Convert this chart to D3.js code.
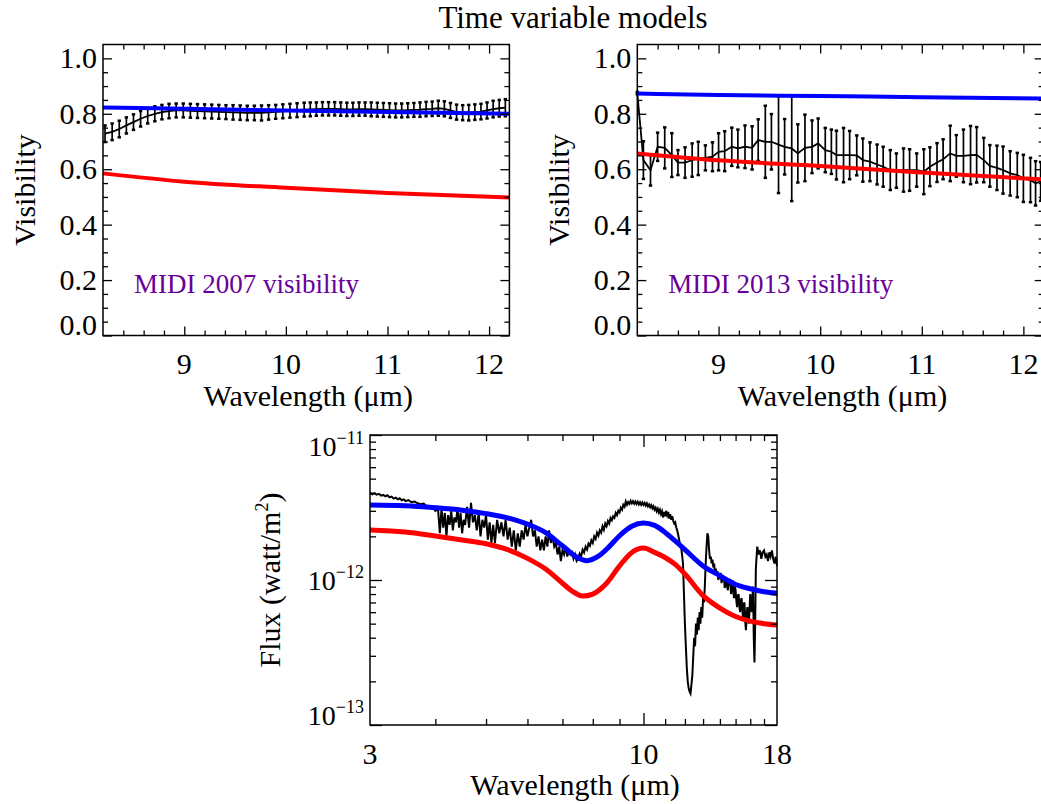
<!DOCTYPE html>
<html lang="en">
<head>
<meta charset="UTF-8">
<title>Time variable models</title>
<script src="https://cdn.jsdelivr.net/npm/d3@7"></script>
<style>
    body {
        background: white;
        margin: 0;
        padding: 0;
    }
    svg {
        display: block;
        font-family: "Liberation Serif", "Times New Roman", serif;
    }
    .frame {
        fill: none;
        stroke: black;
        stroke-width: 1.5;
    }
    .tick line {
        stroke: black;
        stroke-width: 1.3;
    }
    .lbl {
        font-size: 30px;
        fill: black;
    }
    .note {
        font-size: 27px;
        fill: #680099;
    }
</style>
</head>
<body>
<script>
    // MIDI 2007 visibility
    var wave07 = [8.22, 8.29, 8.36, 8.43, 8.50, 8.57, 8.64, 8.71, 8.78, 8.85,
        8.92, 8.99, 9.06, 9.13, 9.20, 9.27, 9.34, 9.41, 9.48, 9.55,
        9.62, 9.69, 9.76, 9.83, 9.90, 9.97, 10.04, 10.11, 10.18, 10.24,
        10.30, 10.36, 10.42, 10.48, 10.54, 10.60, 10.66, 10.72, 10.78, 10.84,
        10.90, 10.96, 11.02, 11.08, 11.14, 11.20, 11.26, 11.32, 11.38, 11.44,
        11.50, 11.56, 11.62, 11.68, 11.74, 11.80, 11.86, 11.92, 11.98, 12.04,
        12.10, 12.16];
    var vis07 = [0.728, 0.735, 0.745, 0.758, 0.770, 0.782, 0.792, 0.800, 0.806, 0.810,
        0.812, 0.812, 0.811, 0.810, 0.809, 0.808, 0.807, 0.806, 0.805, 0.804,
        0.803, 0.803, 0.803, 0.805, 0.807, 0.809, 0.811, 0.813, 0.815, 0.816,
        0.817, 0.818, 0.818, 0.818, 0.817, 0.816, 0.816, 0.817, 0.817, 0.816,
        0.815, 0.814, 0.813, 0.812, 0.812, 0.813, 0.814, 0.815, 0.817, 0.818,
        0.820, 0.818, 0.812, 0.806, 0.804, 0.804, 0.806, 0.808, 0.812, 0.817,
        0.820, 0.822];
    var err07 = [0.030, 0.030, 0.030, 0.029, 0.028, 0.028, 0.027, 0.027, 0.026, 0.026,
        0.025, 0.025, 0.025, 0.025, 0.025, 0.025, 0.025, 0.025, 0.026, 0.026,
        0.026, 0.026, 0.027, 0.026, 0.025, 0.025, 0.025, 0.025, 0.025, 0.025,
        0.024, 0.024, 0.024, 0.024, 0.024, 0.024, 0.024, 0.024, 0.024, 0.025,
        0.025, 0.025, 0.025, 0.025, 0.025, 0.025, 0.025, 0.026, 0.026, 0.026,
        0.027, 0.027, 0.027, 0.027, 0.027, 0.028, 0.028, 0.028, 0.029, 0.030,
        0.030, 0.031];

    // MIDI 2013 visibility
    var wave13 = [8.20, 8.26, 8.33, 8.40, 8.47, 8.54, 8.60, 8.67, 8.74, 8.80,
        8.87, 8.94, 9.00, 9.06, 9.13, 9.19, 9.26, 9.33, 9.39, 9.46,
        9.52, 9.59, 9.65, 9.72, 9.78, 9.85, 9.92, 9.98, 10.05, 10.11,
        10.16, 10.23, 10.29, 10.36, 10.42, 10.49, 10.56, 10.62, 10.69, 10.75,
        10.82, 10.88, 10.95, 11.02, 11.08, 11.15, 11.21, 11.28, 11.34, 11.41,
        11.48, 11.54, 11.61, 11.67, 11.74, 11.80, 11.87, 11.94, 12.00, 12.07,
        12.12, 12.17];
    var vis13 = [0.875, 0.633, 0.596, 0.681, 0.677, 0.651, 0.624, 0.624, 0.633, 0.639,
        0.641, 0.645, 0.663, 0.665, 0.681, 0.675, 0.681, 0.677, 0.705, 0.699,
        0.699, 0.689, 0.681, 0.675, 0.657, 0.677, 0.681, 0.693, 0.669, 0.663,
        0.651, 0.651, 0.651, 0.650, 0.633, 0.627, 0.617, 0.609, 0.597, 0.595,
        0.597, 0.597, 0.597, 0.591, 0.609, 0.624, 0.636, 0.657, 0.648, 0.648,
        0.651, 0.652, 0.633, 0.612, 0.605, 0.597, 0.585, 0.579, 0.567, 0.561,
        0.549, 0.556];
    var err13 = [0.004, 0.068, 0.055, 0.051, 0.074, 0.079, 0.045, 0.055, 0.060, 0.060,
        0.045, 0.052, 0.067, 0.072, 0.069, 0.068, 0.077, 0.078, 0.075, 0.130,
        0.100, 0.175, 0.100, 0.190, 0.105, 0.120, 0.095, 0.090, 0.080, 0.080,
        0.088, 0.098, 0.087, 0.072, 0.078, 0.070, 0.072, 0.072, 0.072, 0.062,
        0.078, 0.075, 0.060, 0.081, 0.070, 0.070, 0.072, 0.100, 0.075, 0.095,
        0.105, 0.100, 0.080, 0.075, 0.080, 0.085, 0.080, 0.080, 0.085, 0.080,
        0.080, 0.070];

    // model visibilities
    var modelWave = [8.2, 9, 10, 11, 12.2];
    var blue07 = [0.823, 0.818, 0.812, 0.806, 0.800];
    var red07 = [0.585, 0.555, 0.533, 0.514, 0.498];
    var blue13 = [0.873, 0.868, 0.864, 0.860, 0.855];
    var red13 = [0.657, 0.632, 0.612, 0.588, 0.563];

    // spectrum [wavelength, flux in 1e-12 W/m2]
    var specData = [[3.00, 4.00], [3.03, 3.90], [3.06, 3.96], [3.09, 3.88], [3.12, 3.93], [3.15, 3.82],
        [3.18, 3.86], [3.21, 3.78], [3.24, 3.84], [3.27, 3.72], [3.30, 3.76], [3.33, 3.64], [3.36, 3.70],
        [3.39, 3.60], [3.42, 3.66], [3.45, 3.55], [3.48, 3.60], [3.51, 3.50], [3.55, 3.56], [3.60, 3.44],
        [3.65, 3.48], [3.70, 3.38], [3.75, 3.33], [3.80, 3.36], [3.85, 3.22], [3.90, 3.16], [3.95, 3.20],
        [4.00, 3.00], [4.03, 3.06], [4.05, 3.0], [4.08, 2.1], [4.11, 3.1], [4.14, 2.3], [4.17, 2.9],
        [4.20, 2.0], [4.23, 2.8], [4.26, 2.4], [4.29, 3.0], [4.32, 2.2], [4.35, 2.7], [4.38, 2.5],
        [4.41, 3.1], [4.44, 2.3], [4.47, 2.9], [4.50, 2.1], [4.53, 2.6], [4.56, 2.4], [4.60, 3.2],
        [4.64, 2.3], [4.68, 3.4], [4.72, 2.5], [4.76, 2.8], [4.80, 2.2], [4.84, 2.9], [4.88, 2.0],
        [4.92, 2.6], [4.96, 2.3], [5.00, 2.8], [5.04, 1.9], [5.08, 2.5], [5.12, 1.8], [5.16, 2.4],
        [5.20, 1.8], [5.25, 2.6], [5.30, 2.1], [5.35, 2.5], [5.40, 2.0], [5.45, 2.6], [5.50, 1.9],
        [5.55, 2.3], [5.60, 1.7], [5.65, 2.2], [5.70, 1.6], [5.75, 2.1], [5.80, 1.7], [5.85, 2.2],
        [5.90, 1.9], [5.95, 2.4], [6.00, 2.0], [6.05, 2.3], [6.10, 2.6], [6.15, 2.0], [6.20, 2.2],
        [6.25, 1.7], [6.30, 2.0], [6.35, 1.6], [6.40, 1.9], [6.45, 1.6], [6.50, 2.0], [6.55, 1.7],
        [6.60, 2.2], [6.65, 1.8], [6.70, 2.0], [6.75, 1.7], [6.80, 1.8], [6.85, 1.5], [6.90, 1.7],
        [6.95, 1.35], [7.00, 1.6], [7.05, 1.5], [7.10, 1.7], [7.15, 1.45], [7.20, 1.6], [7.25, 1.5],
        [7.30, 1.55], [7.35, 1.4], [7.40, 1.5], [7.45, 1.35],
        [7.50, 1.40], [7.55, 1.52], [7.60, 1.45], [7.65, 1.62], [7.70, 1.55], [7.75, 1.70], [7.80, 1.62],
        [7.85, 1.78], [7.90, 1.72], [7.95, 1.88], [8.00, 1.80], [8.05, 2.00], [8.10, 1.92], [8.15, 2.12],
        [8.20, 2.02], [8.25, 2.20], [8.30, 2.12], [8.35, 2.35], [8.40, 2.22], [8.45, 2.45], [8.50, 2.35],
        [8.55, 2.55], [8.60, 2.45], [8.65, 2.68], [8.70, 2.58], [8.75, 2.75], [8.80, 2.68], [8.85, 2.90],
        [8.90, 2.80], [8.95, 3.00], [9.00, 2.92], [9.05, 3.15], [9.10, 3.05], [9.15, 3.30], [9.20, 3.20],
        [9.25, 3.48], [9.30, 3.30], [9.35, 3.45], [9.40, 3.35], [9.45, 3.52], [9.50, 3.38], [9.55, 3.50],
        [9.60, 3.36], [9.65, 3.48], [9.70, 3.34], [9.75, 3.46], [9.80, 3.32], [9.85, 3.44], [9.90, 3.30],
        [9.95, 3.42], [10.0, 3.30], [10.05, 3.40], [10.10, 3.26], [10.15, 3.38], [10.20, 3.22], [10.25, 3.32],
        [10.30, 3.18], [10.35, 3.28], [10.40, 3.12], [10.45, 3.22], [10.50, 3.05], [10.55, 3.15],
        [10.60, 2.98], [10.65, 3.10], [10.70, 2.92], [10.75, 3.05], [10.80, 2.85], [10.85, 2.98],
        [10.90, 2.70], [10.95, 2.95], [11.00, 2.75], [11.05, 3.00], [11.10, 2.80], [11.15, 2.95],
        [11.20, 2.65], [11.25, 2.85], [11.30, 2.60], [11.35, 2.75], [11.40, 2.55], [11.45, 2.45],
        [11.50, 2.50], [11.55, 2.30], [11.60, 2.20], [11.65, 2.05], [11.70, 1.90], [11.75, 1.75],
        [11.80, 1.70], [11.85, 1.5], [11.9, 1.3], [11.95, 0.8],
        [12.0, 0.5], [12.05, 0.35], [12.1, 0.25], [12.15, 0.2], [12.2, 0.18], [12.25, 0.17], [12.3, 0.165],
        [12.35, 0.19], [12.4, 0.22], [12.45, 0.3], [12.5, 0.4], [12.55, 0.35], [12.6, 0.5], [12.65, 0.42],
        [12.7, 0.55], [12.75, 0.45], [12.8, 0.6], [12.85, 0.5], [12.9, 0.65], [12.95, 0.55], [13.0, 0.75],
        [13.05, 0.7], [13.1, 0.9], [13.15, 1.3], [13.2, 1.7], [13.25, 2.1], [13.3, 2.0], [13.35, 1.6],
        [13.4, 1.4], [13.45, 1.45], [13.5, 1.3], [13.55, 1.38], [13.6, 1.22], [13.65, 1.3], [13.7, 1.1],
        [13.75, 1.2], [13.8, 1.08], [13.85, 1.15], [13.9, 1.0], [13.95, 1.1], [14.0, 1.02], [14.05, 1.12],
        [14.1, 0.95], [14.15, 1.05], [14.2, 0.98], [14.25, 1.06], [14.3, 0.88], [14.35, 0.98], [14.4, 1.0],
        [14.45, 0.9], [14.5, 0.85], [14.55, 0.98], [14.6, 0.92], [14.65, 1.02], [14.7, 0.8], [14.75, 0.9],
        [14.8, 1.0], [14.85, 0.82], [14.9, 0.75], [14.95, 0.9], [15.0, 0.85], [15.05, 0.72], [15.1, 0.65],
        [15.15, 0.78], [15.2, 0.8], [15.25, 0.66], [15.3, 0.6], [15.35, 0.72], [15.4, 0.75], [15.45, 0.62],
        [15.5, 0.55], [15.55, 0.68], [15.6, 0.7], [15.65, 0.52], [15.7, 0.45], [15.75, 0.58], [15.8, 0.65],
        [15.85, 0.55], [15.9, 0.5], [15.95, 0.62], [16.0, 0.8], [16.05, 0.7], [16.1, 0.6], [16.15, 0.75],
        [16.2, 0.9], [16.25, 0.4], [16.3, 0.27], [16.35, 0.5], [16.4, 1.2], [16.5, 1.7], [16.6, 1.5],
        [16.7, 1.6], [16.8, 1.4], [16.9, 1.55], [17.0, 1.6], [17.1, 1.45], [17.2, 1.5], [17.3, 1.35],
        [17.4, 1.55], [17.5, 1.45], [17.6, 1.6], [17.7, 1.4], [17.8, 1.3], [17.9, 1.45], [18.0, 1.25]];

    // model SEDs [wavelength, flux in 1e-12 W/m2]
    var blueSed = [[3, 3.29], [3.5, 3.25], [4, 3.15], [4.5, 3.03], [5, 2.87], [5.5, 2.68], [6, 2.43],
        [6.5, 2.12], [7, 1.72], [7.5, 1.42], [7.8, 1.36], [8.2, 1.46], [8.6, 1.7], [9, 2.02], [9.5, 2.35],
        [10, 2.47], [10.5, 2.38], [11, 2.13], [11.5, 1.86], [12, 1.62], [13, 1.25], [14, 1.07], [15, 0.93],
        [16, 0.87], [17, 0.83], [18, 0.81]];
    var redSed = [[3, 2.21], [3.5, 2.14], [4, 2.01], [4.5, 1.89], [5, 1.78], [5.5, 1.62], [6, 1.41],
        [6.5, 1.19], [7, 0.95], [7.3, 0.84], [7.65, 0.775], [8, 0.8], [8.5, 0.95], [9, 1.25], [9.5, 1.55],
        [10, 1.66], [10.5, 1.55], [11, 1.43], [11.5, 1.28], [12, 1.1], [13, 0.78], [14, 0.64], [15, 0.56],
        [16, 0.52], [17, 0.5], [18, 0.49]];

    var svg = d3.select('body')
        .append('svg')
        .attr('width', 1041)
        .attr('height', 804);

    svg.append('text')
        .attr('x', 573)
        .attr('y', 28)
        .attr('text-anchor', 'middle')
        .style('font-size', '31px')
        .text('Time variable models');

    // inward ticks on all four sides, IDL style
    function frameTicks(g, x, y, xMajor, xMinor, yMajor, yMinor, big, small) {
        var x0 = x.range()[0], x1 = x.range()[1];
        var y0 = y.range()[0], y1 = y.range()[1];
        var sides = [
            [d3.axisBottom, x, 'translate(0,' + y0 + ')', xMajor, xMinor],
            [d3.axisTop, x, 'translate(0,' + y1 + ')', xMajor, xMinor],
            [d3.axisLeft, y, 'translate(' + x0 + ',0)', yMajor, yMinor],
            [d3.axisRight, y, 'translate(' + x1 + ',0)', yMajor, yMinor]
        ];
        sides.forEach(function(s) {
            [[s[3], big], [s[4], small]].forEach(function(t) {
                g.append('g')
                    .attr('transform', s[2])
                    .call(s[0](s[1]).tickValues(t[0]).tickSize(-t[1]).tickSizeOuter(0).tickFormat(''))
                    .call(function(a) { a.select('.domain').remove(); });
            });
        });
        g.append('rect')
            .attr('class', 'frame')
            .attr('x', x0).attr('y', y1)
            .attr('width', x1 - x0).attr('height', y0 - y1);
    }

    function visPanel(left, right, wave, vis, err, blue, red, note) {
        var x = d3.scaleLinear().domain([8.2, 12.2]).range([left, right]);
        var y = d3.scaleLinear().domain([0, 1.05]).range([335.5, 44.5]);
        var g = svg.append('g');

        var xMajor = [9, 10, 11, 12];
        var xMinor = d3.range(84, 122, 2).map(function(d) { return d / 10; })
            .filter(function(d) { return d % 1 !== 0; });
        var yMajor = [0, 0.2, 0.4, 0.6, 0.8, 1.0];
        var yMinor = d3.range(1, 21).map(function(d) { return d * 0.05; })
            .filter(function(d, i) { return (i + 1) % 4 !== 0; });

        var pts = wave.map(function(w, i) { return {w: w, v: vis[i], e: err[i]}; });

        // error bars
        var bars = g.append('g').attr('stroke', 'black');
        bars.selectAll('line.bar').data(pts).enter().append('line')
            .attr('class', 'bar')
            .attr('stroke-width', 1.7)
            .attr('x1', function(d) { return x(d.w); })
            .attr('x2', function(d) { return x(d.w); })
            .attr('y1', function(d) { return y(d.v - d.e); })
            .attr('y2', function(d) { return y(d.v + d.e); });
        ['lo', 'hi'].forEach(function(k) {
            bars.selectAll('line.cap-' + k).data(pts).enter().append('line')
                .attr('class', 'cap-' + k)
                .attr('stroke-width', 2.5)
                .attr('x1', function(d) { return x(d.w) - 1.7; })
                .attr('x2', function(d) { return x(d.w) + 1.7; })
                .attr('y1', function(d) { return y(k == 'lo' ? d.v - d.e : d.v + d.e); })
                .attr('y2', function(d) { return y(k == 'lo' ? d.v - d.e : d.v + d.e); });
        });

        g.append('path')
            .datum(pts)
            .attr('fill', 'none')
            .attr('stroke', 'black')
            .attr('stroke-width', 1.8)
            .attr('d', d3.line().x(function(d) { return x(d.w); }).y(function(d) { return y(d.v); }));

        var model = d3.line()
            .curve(d3.curveMonotoneX)
            .x(function(d, i) { return x(modelWave[i]); })
            .y(function(d) { return y(d); });
        g.append('path').datum(red).attr('fill', 'none').attr('stroke', '#ff0000').attr('stroke-width', 4).attr('d', model);
        g.append('path').datum(blue).attr('fill', 'none').attr('stroke', '#0000ff').attr('stroke-width', 4).attr('d', model);

        frameTicks(g, x, y, xMajor, xMinor, yMajor, yMinor, 9, 5);

        g.selectAll('text.xl').data(xMajor).enter().append('text')
            .attr('class', 'lbl')
            .attr('x', function(d) { return x(d); })
            .attr('y', 374)
            .attr('text-anchor', 'middle')
            .text(function(d) { return d; });
        g.selectAll('text.yl').data(yMajor).enter().append('text')
            .attr('class', 'lbl')
            .attr('x', left - 6)
            .attr('y', function(d) { return y(d) + 10 - (d == 0 ? 11 : 0); })
            .attr('text-anchor', 'end')
            .text(d3.format('.1f'));

        g.append('text')
            .attr('class', 'lbl')
            .attr('x', (left + right) / 2 + 2)
            .attr('y', 406)
            .attr('text-anchor', 'middle')
            .text('Wavelength (\u03bcm)');
        g.append('text')
            .attr('class', 'lbl')
            .attr('transform', 'translate(' + (left - 68) + ',190) rotate(-90)')
            .attr('text-anchor', 'middle')
            .text('Visibility');
        g.append('text')
            .attr('class', 'note')
            .attr('x', left + 31)
            .attr('y', 293)
            .text(note);
    }

    visPanel(103, 509.4, wave07, vis07, err07, blue07, red07, 'MIDI 2007 visibility');
    visPanel(637.3, 1043.7, wave13, vis13, err13, blue13, red13, 'MIDI 2013 visibility');

    // flux panel
    var fx = d3.scaleLog().domain([3, 18]).range([370, 777]);
    var fy = d3.scaleLog().domain([1e-13, 1e-11]).range([725, 435]);
    var fg = svg.append('g');

    var sedLine = d3.line()
        .x(function(d) { return fx(d[0]); })
        .y(function(d) { return fy(d[1] * 1e-12); });

    fg.append('path').datum(specData)
        .attr('fill', 'none').attr('stroke', 'black').attr('stroke-width', 2)
        .attr('d', sedLine);
    fg.append('path').datum(redSed)
        .attr('fill', 'none').attr('stroke', '#ff0000').attr('stroke-width', 5)
        .attr('d', sedLine.curve(d3.curveMonotoneX));
    fg.append('path').datum(blueSed)
        .attr('fill', 'none').attr('stroke', '#0000ff').attr('stroke-width', 5)
        .attr('d', sedLine.curve(d3.curveMonotoneX));

    var fyMinor = [];
    [-13, -12].forEach(function(p) {
        d3.range(2, 10).forEach(function(k) { fyMinor.push(k * Math.pow(10, p)); });
    });
    frameTicks(fg, fx, fy, [10], [4, 5, 6, 7, 8, 9, 11, 12, 13, 14, 15, 16, 17],
        [1e-13, 1e-12, 1e-11], fyMinor, 12, 6);

    var fxLabels = [3, 10, 18];
    fg.selectAll('text.xl').data(fxLabels).enter().append('text')
        .attr('class', 'lbl')
        .attr('x', function(d) { return fx(d); })
        .attr('y', 764)
        .attr('text-anchor', 'middle')
        .text(function(d) { return d; });

    var fyExp = [-13, -12, -11];
    var fyShift = [-10, 0, 11];
    fyExp.forEach(function(p, i) {
        var t = fg.append('text')
            .attr('x', 364)
            .attr('y', fy(Math.pow(10, p)) + fyShift[i] + 10)
            .attr('text-anchor', 'end')
            .style('font-size', '28px');
        t.append('tspan').text('10');
        t.append('tspan').attr('dy', -12).style('font-size', '18px').text('\u2212' + (-p));
    });

    fg.append('text')
        .attr('class', 'lbl')
        .attr('x', 575)
        .attr('y', 795)
        .attr('text-anchor', 'middle')
        .text('Wavelength (\u03bcm)');

    var fl = fg.append('text')
        .attr('class', 'lbl')
        .attr('transform', 'translate(280,580) rotate(-90)')
        .attr('text-anchor', 'middle');
    fl.append('tspan').text('Flux (watt/m');
    fl.append('tspan').attr('dy', -12).style('font-size', '18px').text('2');
    fl.append('tspan').attr('dy', 12).text(')');
</script>
</body>
</html>
